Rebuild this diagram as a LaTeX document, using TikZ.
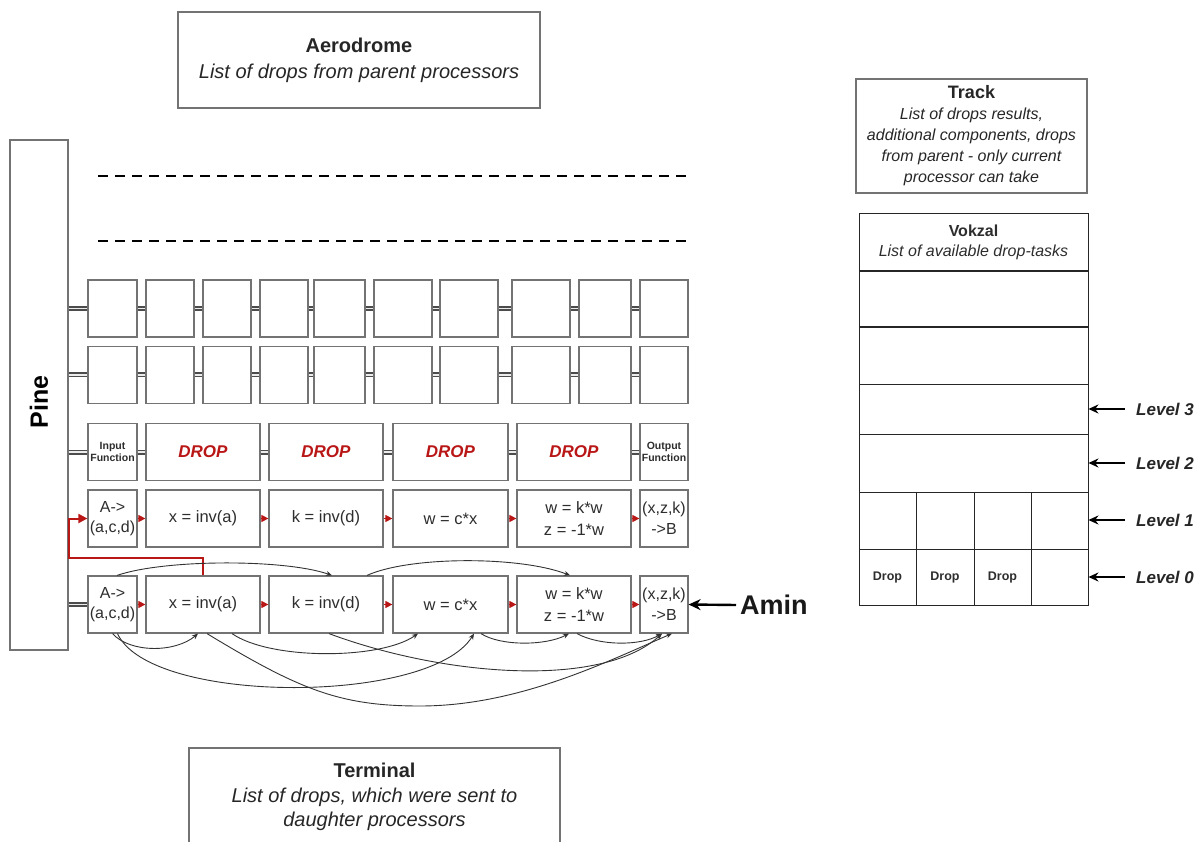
\documentclass[tikz,border=0pt]{standalone}
\usepackage{fontspec}
\setmainfont{Liberation Sans}
\usetikzlibrary{arrows.meta}
\definecolor{dred}{RGB}{185,22,22}
\definecolor{bgray}{RGB}{115,115,115}
\definecolor{tgray}{RGB}{45,45,45}
\newcommand{\fsz}[2]{\fontsize{#1}{#2}\selectfont}
\begin{document}
\begin{tikzpicture}[x=1pt,y=-1pt,
  cell/.style={draw=bgray, line width=1.2pt, minimum height=57pt, inner sep=0pt, text=tgray, align=center, font=\fsz{16.5}{21}},
  tcell/.style={draw=black!85, line width=0.9pt, inner sep=0pt, text=tgray, align=center},
  titlebox/.style={draw=bgray, line width=1.2pt, inner sep=0pt, align=center, text=black!85},
  dbl/.style={draw=black!70, line width=1.6pt, double=white!85!gray, double distance=1.8pt},
  rarr/.style={draw=dred, line width=1pt, -{Triangle[length=7pt,width=7pt]}},
  redln/.style={draw=dred, line width=2pt, -{Triangle[length=9pt,width=9pt]}},
  carr/.style={draw=black!80, line width=0.9pt, -{Stealth[length=6pt,width=5pt]}},
  larr/.style={draw=black, line width=1.4pt, -{Stealth[length=10pt,width=9pt]}},
  dashln/.style={draw=black, line width=2.4pt, dash pattern=on 10pt off 7pt},
  dropt/.style={font=\fsz{17}{20}\bfseries\itshape, text=dred},
  fnt/.style={font=\fsz{10.5}{12.5}\bfseries}
]
\useasboundingbox (0,0) rectangle (1200,842);
\clip (0,0) rectangle (1200,842);

% title boxes
\node[titlebox, minimum width=362pt, minimum height=96pt, font=\fsz{20}{26}] (aero) at (359,60)
  {\bfseries Aerodrome\\ \itshape List of drops from parent processors};
\node[titlebox, minimum width=231pt, minimum height=114pt, font=\fsz{16}{21}] (track) at (971.5,136)
  {{\fsz{18}{21}\bfseries Track}\\ \itshape List of drops results,\\ \itshape additional components, drops\\ \itshape from parent - only current\\ \itshape processor can take};
\node[titlebox, minimum width=371pt, minimum height=98pt, font=\fsz{20}{24.5}] (term) at (374.5,797)
  {\bfseries Terminal\\ \itshape List of drops, which were sent to\\ \itshape daughter processors};

% Pine
\node[draw=bgray, line width=1.2pt, minimum width=58pt, minimum height=510pt, inner sep=0pt, font=\fsz{25}{28}\bfseries] (pine) at (39,395)
  {\rotatebox{90}{\hspace*{-14pt}Pine}};

% dashed lines
\draw[dashln] (98,176) -- (690,176);
\draw[dashln] (98,241) -- (690,241);

% rows 1 and 2
\foreach \n/\x/\w in {1/112.5/49, 2/170/48, 3/227/48, 4/284/48, 5/339.5/51, 6/403/58, 7/469/58, 8/541/58, 9/605/52, 10/664/48}{
  \node[cell, minimum width=\w pt] (ra\n) at (\x,308.5) {};
  \node[cell, minimum width=\w pt] (rb\n) at (\x,375) {};
}
\foreach \a/\b in {1/2,2/3,3/4,4/5,5/6,6/7,7/8,8/9,9/10}{
  \draw[dbl] (ra\a.east) -- (ra\b.west);
  \draw[dbl] (rb\a.east) -- (rb\b.west);
}
\draw[dbl] (pine.east |- ra1.west) -- (ra1.west);
\draw[dbl] (pine.east |- rb1.west) -- (rb1.west);

% row 3
\node[cell, minimum width=49pt, fnt] (rc1) at (112.5,452) {Input\\Function};
\node[cell, minimum width=114pt, dropt] (rc2) at (203,452) {DROP};
\node[cell, minimum width=114pt, dropt] (rc3) at (326,452) {DROP};
\node[cell, minimum width=115pt, dropt] (rc4) at (450.5,452) {DROP};
\node[cell, minimum width=114pt, dropt] (rc5) at (574,452) {DROP};
\node[cell, minimum width=48pt, fnt] (rc6) at (664,452) {Output\\Function};
\foreach \a/\b in {1/2,2/3,3/4,4/5,5/6}{ \draw[dbl] (rc\a.east) -- (rc\b.west); }
\draw[dbl] (pine.east |- rc1.west) -- (rc1.west);

% rows 4 and 5
\foreach \r/\y in {d/518.5, e/604.5}{
  \node[cell, minimum width=49pt, font=\fsz{16}{20}] (r\r1) at (112.5,\y) {A->\\(a,c,d)};
  \node[cell, minimum width=114pt] (r\r2) at (203,\y) {x = inv(a)};
  \node[cell, minimum width=114pt] (r\r3) at (326,\y) {k = inv(d)};
  \node[cell, minimum width=115pt] (r\r4) at (450.5,\y) {w = c*x};
  \node[cell, minimum width=114pt, font=\fsz{16.5}{22}] (r\r5) at (574,\y) {w = k*w\\z = -1*w};
  \node[cell, minimum width=48pt, font=\fsz{16}{21}] (r\r6) at (664,\y) {(x,z,k)\\->B};
  \foreach \a/\b in {1/2,2/3,3/4,4/5,5/6}{ \draw[rarr] (r\r\a.east) -- (r\r\b.west); }
}
\draw[dbl] (pine.east |- re1.west) -- (re1.west);

% red feedback path
\coordinate (rc) at (69,558);
\draw[redln] (re2.north) -- (re2.north |- rc) -- (rc) |- (rd1.west);

% curved dependencies (row 5)
\draw[carr] ([xshift=4.5pt]re1.north) .. controls (165,559) and (285,559) .. ([xshift=6pt]re3.north);
\draw[carr] ([xshift=41pt]re3.north) .. controls (410,556) and (520,556) .. ([xshift=-4pt]re5.north);
\draw[carr] (re1.south) .. controls (130,653) and (175,653) .. ([xshift=-5pt]re2.south);
\draw[carr] ([xshift=5pt]re1.south) .. controls (150,705) and (430,705) .. ([xshift=23.5pt]re4.south);
\draw[carr] ([xshift=4pt]re2.south) .. controls (300,690) and (340,706) .. (420,706) .. controls (520,706) and (610,660) .. ([xshift=8pt]re6.south);
\draw[carr] ([xshift=29pt]re2.south) .. controls (270,660) and (380,660) .. ([xshift=-32.5pt]re4.south);
\draw[carr] ([xshift=3pt]re3.south) .. controls (440,675) and (600,690) .. ([xshift=-2pt]re6.south);
\draw[carr] ([xshift=30.5pt]re4.south) .. controls (500,646) and (545,646) .. ([xshift=-5pt]re5.south);
\draw[carr] ([xshift=3pt]re5.south) .. controls (600,646) and (640,646) .. ([xshift=-2pt]re6.south);

% Amin
\node[anchor=west, inner sep=0pt, font=\fsz{27}{30}\bfseries, text=black!90] (amin) at (740,605) {Amin};
\draw[draw=black, line width=2.4pt, -{Stealth[length=12pt,width=11pt]}] ([xshift=-4pt]amin.west) -- (re6.east);

% Vokzal table
\node[tcell, minimum width=229pt, minimum height=58pt, font=\fsz{16}{20}] (vh) at (973.5,242)
  {\bfseries Vokzal\\ \itshape List of available drop-tasks};
\node[tcell, minimum width=229pt, minimum height=56.5pt] (v5) at (973.5,298.5) {};
\node[tcell, minimum width=229pt, minimum height=57pt] (v4) at (973.5,355.5) {};
\node[tcell, minimum width=229pt, minimum height=50pt] (v3) at (973.5,409.5) {};
\node[tcell, minimum width=229pt, minimum height=58pt] (v2) at (973.5,463) {};
\foreach \n/\x/\w in {1/887.5/57, 2/945/58, 3/1002.5/57, 4/1059.5/57}{
  \node[tcell, minimum width=\w pt, minimum height=57pt] (vl\n) at (\x,520.5) {};
}
\node[tcell, minimum width=57pt, minimum height=56pt, font=\fsz{12.5}{14}\bfseries] (vd1) at (887.5,577) {Drop};
\node[tcell, minimum width=58pt, minimum height=56pt, font=\fsz{12.5}{14}\bfseries] (vd2) at (945,577) {Drop};
\node[tcell, minimum width=57pt, minimum height=56pt, font=\fsz{12.5}{14}\bfseries] (vd3) at (1002.5,577) {Drop};
\node[tcell, minimum width=57pt, minimum height=56pt] (vd4) at (1059.5,577) {};

% level labels
\foreach \n/\y/\t in {3/409/v3, 2/463/v2, 1/520/vl4, 0/577/vd4}{
  \node[anchor=west, inner sep=0pt, font=\fsz{17}{20}\bfseries\itshape, text=black!85] (lv\n) at (1136,\y) {Level \n};
  \draw[larr] ([xshift=-11pt]lv\n.west) -- (\t.east |- lv\n.west);
}
\end{tikzpicture}
\end{document}
